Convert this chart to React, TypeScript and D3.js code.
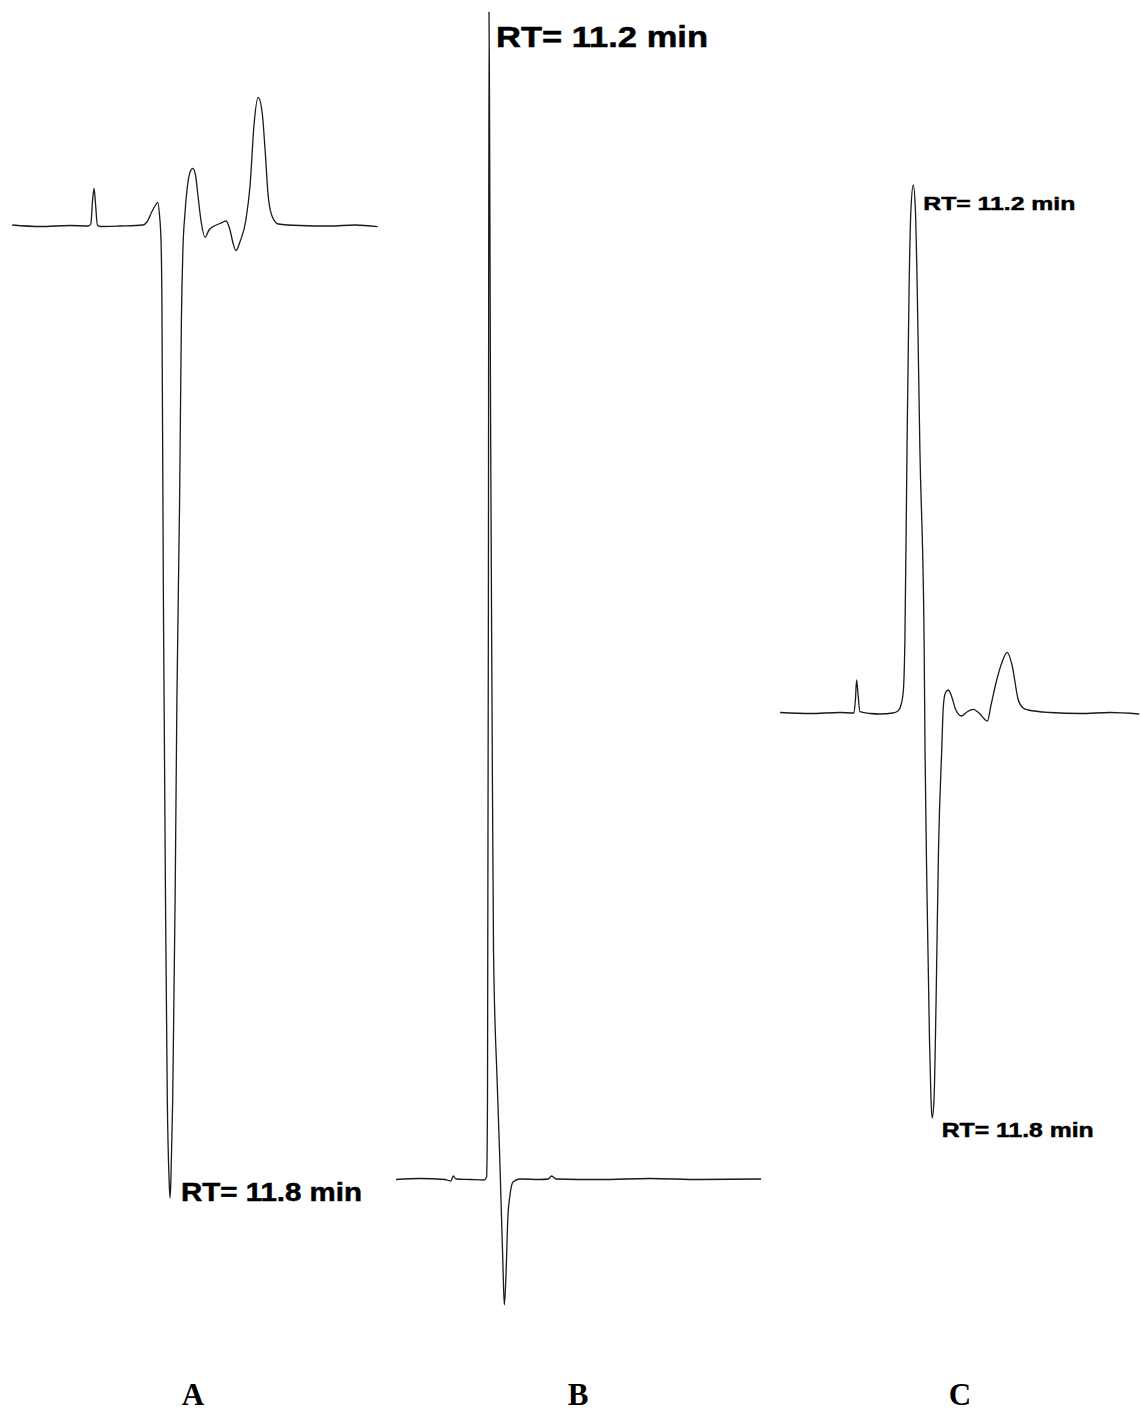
import React from "react";
import * as d3 from "d3";

// chromatogram traces: [time (min), detector signal]
const traceA: [number, number][] = [
  [6.54, 0.1], [7.47, -0.05], [8.47, 0.05], [9.07, 0], [9.16, 0.2], [9.22, 2.6],
  [9.27, 3.77], [9.32, 2.1], [9.38, 0.1], [9.47, -0.05], [10.13, 0], [10.9, 0.1],
  [11.03, 0.4], [11.19, 1.4], [11.3, 2.0], [11.39, 2.37], [11.45, 1.1], [11.5, -1.4],
  [11.53, -7.4], [11.58, -37.4], [11.65, -67.4], [11.71, -87.4], [11.77, -95.4],
  [11.8, -97.2], [11.83, -95.4], [11.89, -87.4], [11.97, -67.4], [12.03, -47.4],
  [12.12, -27.4], [12.18, -9.4], [12.23, -2.4], [12.3, 1.3], [12.41, 4.6],
  [12.47, 5.4], [12.56, 5.77], [12.65, 5.1], [12.73, 3.1], [12.83, 0.6],
  [12.97, -1.13], [13.1, -0.4], [13.27, 0], [13.47, 0.25], [13.67, 0.5],
  [13.8, -0.4], [13.9, -1.7], [14.0, -2.47], [14.13, -1.6], [14.33, 0.6],
  [14.47, 4.1], [14.6, 10.1], [14.74, 12.87], [14.87, 11.4], [14.97, 7.6],
  [15.07, 3.1], [15.2, 1.0], [15.41, 0.2], [16.13, 0.05], [17.13, 0],
  [17.97, 0.1], [18.72, -0.07],
];

const traceB: [number, number][] = [
  [8.1, -0.05], [8.9, 0.05], [9.73, -0.05], [9.93, -0.2], [10.01, 0.3], [10.1, 0],
  [10.57, -0.05], [11.03, -0.1], [11.12, 0.2], [11.15, 7.9], [11.18, 57.9],
  [11.2, 116.7], [11.217, 108.0], [11.25, 77.9], [11.3, 47.9], [11.35, 22.9],
  [11.47, 9.9], [11.55, 2.9], [11.6, -2.1], [11.66, -8.1], [11.71, -12.6],
  [11.76, -10.1], [11.83, -3.8], [11.9, -1.6], [12.0, -0.3], [12.23, 0],
  [12.9, -0.05], [13.17, 0], [13.29, 0.3], [13.43, 0], [14.9, -0.05],
  [16.57, 0.05], [18.23, -0.05], [20.27, 0],
];

const traceC: [number, number][] = [
  [6.77, 0.05], [7.77, -0.05], [8.77, 0.05], [9.23, 0], [9.28, 1.3], [9.32, 3.3],
  [9.37, 1.8], [9.43, 0.13], [9.77, -0.05], [10.1, -0.1], [10.53, 0], [10.7, 0.2],
  [10.8, 0.8], [10.88, 2.3], [10.93, 7.3], [11.0, 26.3], [11.07, 42.6],
  [11.13, 50.3], [11.21, 52.8], [11.28, 50.3], [11.34, 42.6], [11.43, 26.3],
  [11.57, 7.3], [11.6, -3.5], [11.67, -18.7], [11.75, -32.7], [11.8, -38.7],
  [11.84, -40.5], [11.9, -38.7], [11.97, -28.7], [12.05, -13.7], [12.16, -3.5],
  [12.21, 0.6], [12.28, 2.0], [12.38, 2.3], [12.47, 1.8], [12.63, 0.3],
  [12.82, -0.3], [13.0, 0.1], [13.21, 0.37], [13.4, 0], [13.68, -0.8],
  [13.8, 0.8], [13.99, 3.3], [14.17, 5.1], [14.34, 6.07], [14.5, 4.8],
  [14.71, 1.3], [14.87, 0.5], [15.04, 0.3], [15.77, 0.05], [16.77, -0.05],
  [17.77, 0.05], [18.74, -0.1],
];

const panelNames = ["A", "B", "C"];

// retention-time annotations: panel, time, signal, text
const rtLabels = [
  { panel: 0, t: 11.8, s: -97.2, text: "RT= 11.8 min", size: 25, len: 181, dx: 11, dy: 3 },
  { panel: 1, t: 11.2, s: 116.7, text: "RT= 11.2 min", size: 30, len: 212, dx: 7, dy: 35 },
  { panel: 2, t: 11.21, s: 52.8, text: "RT= 11.2 min", size: 19, len: 152, dx: 10, dy: 25 },
  { panel: 2, t: 11.84, s: -40.5, text: "RT= 11.8 min", size: 20.5, len: 152, dx: 9.5, dy: 19 },
];

const W = 1140;
const H = 1413;

const App = () => {
  // 1. one time/signal scale pair per panel
  const panels = [
    {
      data: traceA,
      x: d3.scaleLinear().domain([6.5, 18.7]).range([11, 377]),
      y: d3.scaleLinear().domain([-100, 0]).range([1226, 226]),
    },
    {
      data: traceB,
      x: d3.scaleLinear().domain([8.1, 20.3]).range([396, 762]),
      y: d3.scaleLinear().domain([-10, 0]).range([1279, 1179]),
    },
    {
      data: traceC,
      x: d3.scaleLinear().domain([6.8, 18.8]).range([781, 1141]),
      y: d3.scaleLinear().domain([-10, 0]).range([813, 713]),
    },
  ];

  return (
    <svg
      width={W}
      height={H}
      style={{ position: "absolute", left: 0, top: 0, background: "#fff" }}
    >
      {panels.map((p, i) => {
        const line = d3
          .line<[number, number]>()
          .x(d => p.x(d[0]))
          .y(d => p.y(d[1]))
          .curve(d3.curveMonotoneX);
        const [r0, r1] = p.x.range();
        return (
          <g key={i}>
            <path
              d={line(p.data) || ""}
              fill="none"
              stroke="#1a1a1a"
              strokeWidth={1.3}
              strokeLinejoin="round"
            />
            <text
              x={(r0 + r1) / 2 - 1}
              y={1405}
              textAnchor="middle"
              fontFamily="'Liberation Serif', 'Times New Roman', serif"
              fontWeight="bold"
              fontSize={31}
              fill="#000"
            >
              {panelNames[i]}
            </text>
          </g>
        );
      })}
      {rtLabels.map((l, i) => {
        const p = panels[l.panel];
        return (
          <text
            key={i}
            x={p.x(l.t) + l.dx}
            y={p.y(l.s) + l.dy}
            fontFamily="'Liberation Sans', Arial, sans-serif"
            fontWeight="bold"
            fontSize={l.size}
            textLength={l.len}
            lengthAdjust="spacingAndGlyphs"
            fill="#000"
            stroke="#000"
            strokeWidth={0.5}
          >
            {l.text}
          </text>
        );
      })}
    </svg>
  );
};

export default App;
